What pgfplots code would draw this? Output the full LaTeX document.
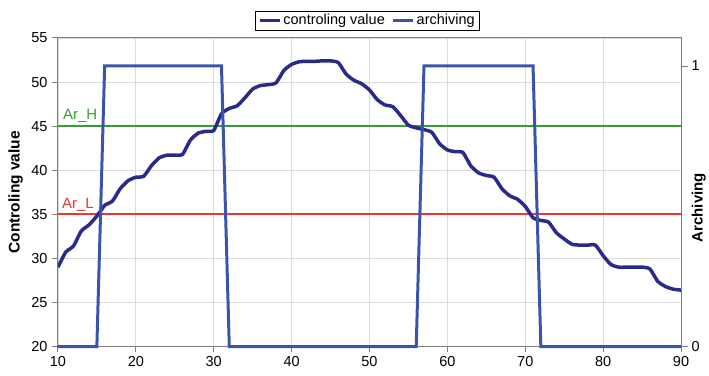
\documentclass[border=0pt]{standalone}
\usepackage{fontspec}
\setmainfont{Liberation Sans}
\usepackage{pgfplots}
\pgfplotsset{compat=1.18}
\definecolor{ctrl}{RGB}{42,42,140}
\definecolor{arch}{RGB}{58,84,172}
\definecolor{arh}{RGB}{50,160,50}
\definecolor{arl}{RGB}{235,55,45}
\definecolor{gridc}{RGB}{218,218,218}
\definecolor{axc}{RGB}{125,125,125}
\begin{document}
\begin{tikzpicture}
\begin{axis}[
  name=main,
  scale only axis, width=624pt, height=309pt,
  xmin=10, xmax=90, ymin=20, ymax=55,
  xtick={10,20,...,90}, ytick={20,25,...,55},
  grid=major, grid style={gridc, line width=0.8pt},
  axis line style={axc, line width=0.9pt},
  tick style={axc, line width=0.9pt}, tick align=outside, major tick length=6pt,
  xtick pos=left, ytick pos=left,
  ticklabel style={font=\fontsize{14.5}{17}\selectfont},
  yticklabel style={xshift=-1pt},
  /pgf/number format/assume math mode=true,
  ylabel={Controling value},
  ylabel style={font=\fontsize{15.5}{18}\selectfont\bfseries, at={(rel axis cs:-0.068,0.5)}, anchor=center},
  legend style={at={(0.497,1.025)}, anchor=south, legend columns=2, draw=black, line width=0.6pt,
    font=\fontsize{14.5}{17}\selectfont, inner xsep=3pt, inner ysep=1.5pt,
    /tikz/every even column/.append style={column sep=5pt}},
  legend image code/.code={\draw[#1, line width=3pt] (0cm,0cm) -- (0.7cm,0cm);},
]
\addplot[arh, line width=2pt, forget plot] coordinates {(10,45) (90,45)};
\addplot[arl, line width=2pt, forget plot] coordinates {(10,35) (90,35)};
\addplot[ctrl, line width=3.5pt, smooth, tension=0.35] table {
x y
10 29.0
11 30.7
12 31.4
13 33.1
14 33.8
15 34.8
16 36.0
17 36.5
18 37.9
19 38.8
20 39.2
21 39.3
22 40.5
23 41.4
24 41.7
25 41.7
26 41.8
27 43.4
28 44.2
29 44.4
30 44.5
31 46.4
32 47.0
33 47.3
34 48.2
35 49.2
36 49.6
37 49.7
38 49.9
39 51.3
40 52.0
41 52.3
42 52.35
43 52.35
44 52.4
45 52.4
46 52.2
47 50.9
48 50.2
49 49.8
50 49.1
51 48.0
52 47.4
53 47.2
54 46.2
55 45.1
56 44.8
57 44.6
58 44.3
59 43.0
60 42.3
61 42.1
62 42.0
63 40.5
64 39.7
65 39.4
66 39.2
67 37.9
68 37.1
69 36.7
70 35.9
71 34.6
72 34.3
73 34.1
74 32.9
75 32.2
76 31.6
77 31.5
78 31.5
79 31.5
80 30.3
81 29.3
82 29.0
83 29.0
84 29.0
85 29.0
86 28.8
87 27.4
88 26.8
89 26.5
90 26.4
};
\addlegendentry{controling value}
\addlegendimage{arch, line width=3pt}
\addlegendentry{archiving}
\node[arh, anchor=south west, inner sep=1pt, font=\fontsize{15}{18}\selectfont] at (axis cs:10,45) [xshift=4pt, yshift=2pt] {Ar\_H};
\node[arl, anchor=south west, inner sep=1pt, font=\fontsize{15}{18}\selectfont] at (axis cs:10,35) [xshift=3pt, yshift=2pt] {Ar\_L};
\end{axis}
\begin{axis}[
  scale only axis, width=624pt, height=309pt,
  xmin=10, xmax=90, ymin=0, ymax=1.1,
  axis x line=none, axis y line*=right,
  ytick={0,1},
  axis line style={axc, line width=0.9pt},
  tick style={axc, line width=0.9pt}, tick align=outside, major tick length=7pt,
  ticklabel style={font=\fontsize{14.5}{17}\selectfont},
  /pgf/number format/assume math mode=true,
  ylabel={Archiving},
  ylabel style={font=\fontsize{15}{18}\selectfont\bfseries, at={(rel axis cs:1.0285,0.45)}, anchor=center},
  clip=false,
]
\addplot[arch, line width=3pt] coordinates {
(10,0) (15,0) (16,1) (31,1) (32,0) (56,0) (57,1) (71,1) (72,0) (90,0)
};
\end{axis}
\pgfresetboundingbox
\path[use as bounding box] ([shift={(-58pt,-29pt)}]main.south west) rectangle ([shift={(28pt,38pt)}]main.north east);
\end{tikzpicture}
\end{document}
